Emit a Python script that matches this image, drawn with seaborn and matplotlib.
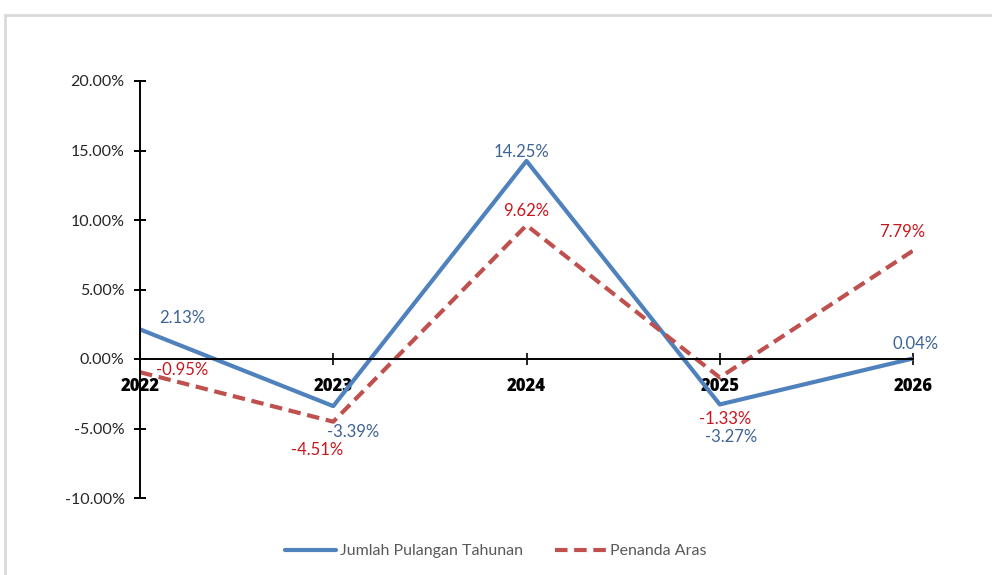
import numpy as np
import pandas as pd
import matplotlib
matplotlib.use("Agg")
import matplotlib.pyplot as plt
from matplotlib.patches import Rectangle
from matplotlib.ticker import FuncFormatter
import seaborn as sns

years = ["2022", "2023", "2024", "2025", "2026"]
jumlah = [2.13, -3.39, 14.25, -3.27, 0.04]
penanda = [-0.95, -4.51, 9.62, -1.33, 7.79]
series_names = ["Jumlah Pulangan Tahunan", "Penanda Aras"]

# label offsets in pixels (dx, dy)
off_jumlah = [(42, 11), (20, -26), (-5, 9), (11, -33), (3, 14)]
off_penanda = [(42, 2), (-16, -28), (0, 14), (5, -42), (-11, 19)]

sns.set_theme(style="white")
plt.rcParams["font.family"] = ["Lato", "DejaVu Sans"]

df = pd.DataFrame({
    "idx": list(range(len(years))) * 2,
    "value": jumlah + penanda,
    "series": [series_names[0]] * len(years) + [series_names[1]] * len(years),
})

blue = "#4F81BD"
red = "#C0504D"

fig = plt.figure(figsize=(9.92, 5.75), dpi=100)
ax = fig.add_axes([140 / 992, 1 - 498 / 575, (913 - 140) / 992, (498 - 81) / 575])

sns.lineplot(data=df, x="idx", y="value", hue="series", style="series",
             palette={series_names[0]: blue, series_names[1]: red},
             dashes={series_names[0]: "", series_names[1]: (3, 1.6)},
             linewidth=3, ax=ax, legend=True)

ax.set_xlim(0, 4)
ax.set_ylim(-10, 20)
ax.set_yticks(np.arange(-10, 20.1, 5))
ax.yaxis.set_major_formatter(FuncFormatter(lambda v, p: f"{v:.2f}%"))
ax.set_xticks(range(len(years)))
ax.set_xticklabels(years)
ax.set_xlabel("")
ax.set_ylabel("")

for s in ["top", "right"]:
    ax.spines[s].set_visible(False)
ax.spines["bottom"].set_position(("data", 0))
for s in ["left", "bottom"]:
    ax.spines[s].set_color("black")
    ax.spines[s].set_linewidth(1.4)

ax.tick_params(axis="y", direction="inout", length=8, width=1.4, color="black",
               labelsize=11.5, labelcolor="#262626", pad=7, left=True)
ax.tick_params(axis="x", direction="inout", length=8, width=1.2, color="black",
               pad=10, bottom=True, labelsize=12, labelcolor="black")
for lab in ax.get_xticklabels():
    lab.set_fontweight("heavy")
    lab.set_family(["Open Sans", "DejaVu Sans"])

for i, v in enumerate(jumlah):
    ax.annotate(f"{v:.2f}%", (i, v), xytext=off_jumlah[i], textcoords="offset pixels",
                ha="center", va="center", fontsize=12, color="#3E6396")
for i, v in enumerate(penanda):
    ax.annotate(f"{v:.2f}%", (i, v), xytext=off_penanda[i], textcoords="offset pixels",
                ha="center", va="center", fontsize=12, color="#C8161D")

leg = ax.legend(loc="center", bbox_to_anchor=(0.5, 1 - 551 / 575), bbox_transform=fig.transFigure,
                ncol=2, frameon=False, fontsize=11.5, handlelength=3.2, columnspacing=2.0,
                handletextpad=0.25)
for t in leg.get_texts():
    t.set_color("#595959")

fig.patches.append(Rectangle((5 / 992, -0.1), 1.2, 1.1 - 15 / 575, transform=fig.transFigure,
                             fill=False, edgecolor="#D9D9D9", linewidth=2, zorder=-1))

fig.savefig("out.png", dpi=100)
